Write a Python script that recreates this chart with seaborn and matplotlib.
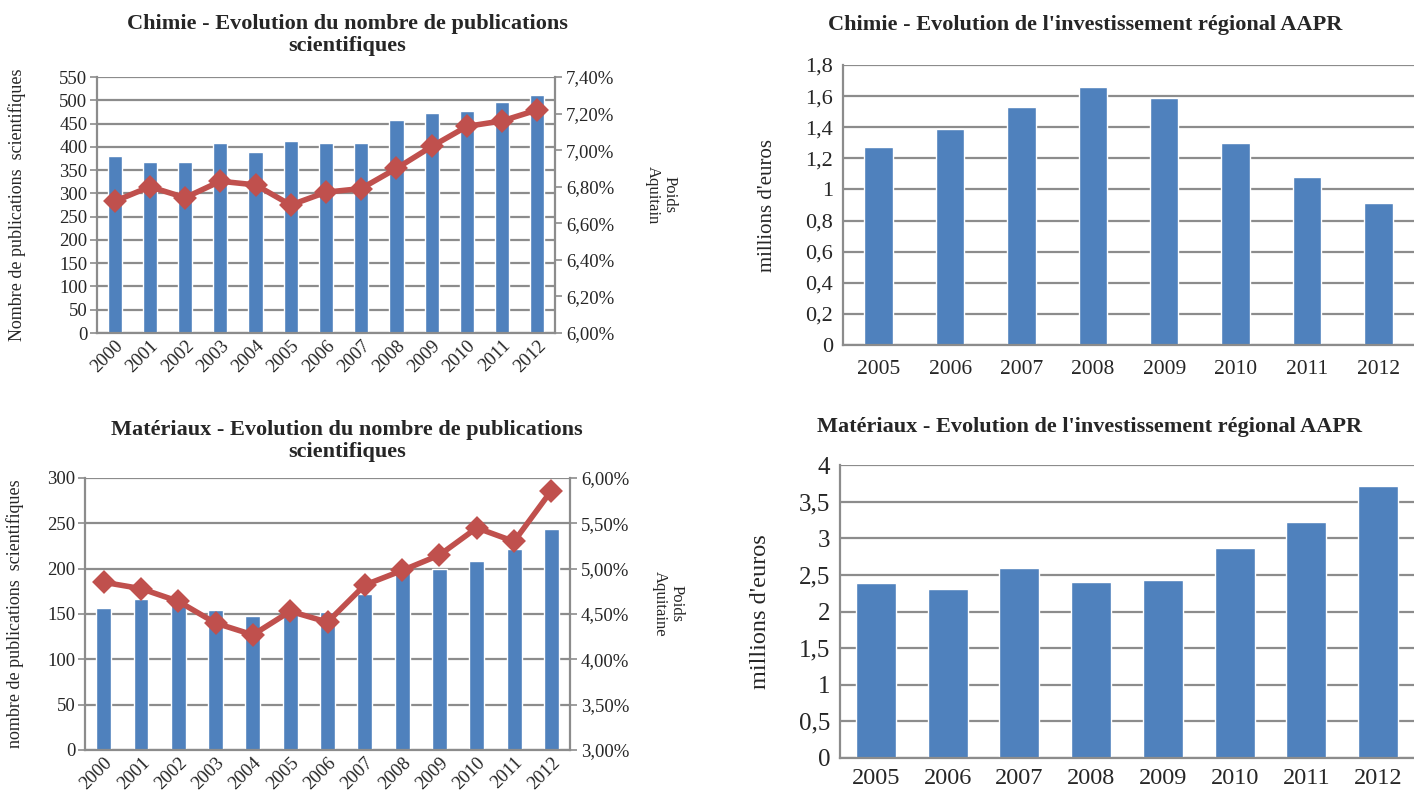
import matplotlib
matplotlib.use("Agg")
import matplotlib.pyplot as plt
from matplotlib.ticker import FuncFormatter, MultipleLocator
import seaborn as sns

# publications, Chimie
years_pub = ["2000", "2001", "2002", "2003", "2004", "2005", "2006",
             "2007", "2008", "2009", "2010", "2011", "2012"]
chimie_pub = [380, 367, 367, 408, 389, 412, 408, 409, 457, 472, 476, 497, 512]
chimie_poids = [6.72, 6.80, 6.74, 6.83, 6.81, 6.70, 6.77, 6.79, 6.90, 7.02, 7.13, 7.16, 7.22]

# publications, Materiaux
mat_pub = [157, 166, 169, 154, 148, 153, 152, 172, 196, 200, 209, 222, 244]
mat_poids = [4.85, 4.78, 4.64, 4.40, 4.27, 4.53, 4.41, 4.82, 4.98, 5.15, 5.45, 5.30, 5.86]

# investissement AAPR (millions d'euros)
years_inv = ["2005", "2006", "2007", "2008", "2009", "2010", "2011", "2012"]
chimie_inv = [1.27, 1.39, 1.53, 1.66, 1.59, 1.30, 1.08, 0.91]
mat_inv = [2.39, 2.31, 2.59, 2.40, 2.43, 2.87, 3.22, 3.71]

sns.set_theme(style="white")
plt.rcParams["font.family"] = ["Liberation Serif", "DejaVu Serif"]

BLUE = "#4F81BD"
RED = "#C0504D"
GRID = "#8C8C8C"

W, H = 1414, 800
fig = plt.figure(figsize=(W / 100, H / 100), dpi=100)


def add_ax(left, top, right, bottom):
    return fig.add_axes([left / W, 1 - bottom / H, (right - left) / W, (bottom - top) / H])


def comma(fmt):
    return FuncFormatter(lambda v, p: format(v, fmt).replace(".", ","))


def style_ax(ax, ymax, step, fsize, fmt):
    ax.set_ylim(0, ymax)
    ax.yaxis.set_major_locator(MultipleLocator(step))
    ax.yaxis.set_major_formatter(comma(fmt))
    ax.grid(axis="y", color=GRID, lw=1.6)
    ax.set_axisbelow(True)
    for s in ["top", "right"]:
        ax.spines[s].set_visible(False)
    for s in ["left", "bottom"]:
        ax.spines[s].set_color(GRID)
        ax.spines[s].set_linewidth(1.6)
    ax.tick_params(axis="y", labelsize=fsize, length=5, color=GRID, width=1.2, pad=2)
    ax.set_xlabel("")
    ax.set_ylabel("")


def pub_chart(box, pub, poids, ymax, step, pmin, pmax, pstep, title_y, title, ylabel, rlabel, rl_xy):
    ax = add_ax(*box)
    sns.barplot(x=years_pub, y=pub, color=BLUE, saturation=1, width=0.4, ax=ax)
    style_ax(ax, ymax, step, 13.5, "g")
    ax.tick_params(axis="x", labelsize=13.5, length=0, pad=3)
    for lab in ax.get_xticklabels():
        lab.set_rotation(45)
        lab.set_ha("right")
        lab.set_rotation_mode("anchor")
    ax2 = ax.twinx()
    sns.pointplot(x=years_pub, y=poids, color=RED, markers="D", markersize=9,
                  linewidth=4, ax=ax2)
    ax2.set_ylim(pmin, pmax)
    ax2.yaxis.set_major_locator(MultipleLocator(pstep))
    ax2.yaxis.set_major_formatter(FuncFormatter(lambda v, p: f"{v:.2f}%".replace(".", ",")))
    ax2.tick_params(axis="y", labelsize=13.5, length=5, color=GRID, width=1.2, pad=3)
    for s in ["top", "left", "bottom"]:
        ax2.spines[s].set_visible(False)
    ax2.spines["right"].set_color(GRID)
    ax2.spines["right"].set_linewidth(1.6)
    ax2.set_ylabel("")
    ax2.grid(False)
    ax.set_xlim(-0.5, len(years_pub) - 0.5)
    ax2.set_xlim(-0.5, len(years_pub) - 0.5)
    fig.text(347 / W, 1 - title_y / H, title, ha="center", va="center",
             fontsize=16, fontweight="bold", linespacing=1.2)
    fig.text(ylabel[1] / W, 1 - (box[1] + box[3]) / 2 / H, ylabel[0], rotation=90,
             ha="center", va="center", fontsize=13)
    fig.text(rl_xy[0] / W, 1 - rl_xy[1] / H, rlabel, rotation=270,
             ha="center", va="center", fontsize=12, linespacing=1.1)


def inv_chart(box, vals, ymax, step, fsize, xfsize, width, title_xy, title, ylab, xlab_pad):
    ax = add_ax(*box)
    sns.barplot(x=years_inv, y=vals, color=BLUE, saturation=1, width=width, ax=ax)
    style_ax(ax, ymax, step, fsize, "g")
    ax.tick_params(axis="x", labelsize=xfsize, length=0, pad=xlab_pad)
    ax.set_xlim(-0.5, len(years_inv) - 0.5)
    fig.text(title_xy[0] / W, 1 - title_xy[1] / H, title, ha="center", va="center",
             fontsize=16, fontweight="bold")
    fig.text(ylab[0] / W, 1 - (box[1] + box[3]) / 2 / H, "millions d'euros", rotation=90,
             ha="center", va="center", fontsize=ylab[1])


pub_chart((97, 77, 555, 333), chimie_pub, chimie_poids, 550, 50, 6.0, 7.4, 0.2, 35,
          "Chimie - Evolution du nombre de publications\nscientifiques",
          ("Nombre de publications  scientifiques", 17), "Poids\nAquitain", (661, 195))
pub_chart((85, 478, 570, 750), mat_pub, mat_poids, 300, 50, 3.0, 6.0, 0.5, 441,
          "Matériaux - Evolution du nombre de publications\nscientifiques",
          ("nombre de publications  scientifiques", 15), "Poids\nAquitaine", (668, 604))
inv_chart((843, 65, 1414, 345), chimie_inv, 1.8, 0.2, 16, 15.5, 0.4, (1085, 25),
          "Chimie - Evolution de l'investissement régional AAPR", (767, 15), 11)
inv_chart((840, 465, 1414, 758), mat_inv, 4, 0.5, 18, 17.5, 0.56, (1090, 427),
          "Matériaux - Evolution de l'investissement régional AAPR", (760, 17.5), 7)

fig.savefig("out.png", dpi=100)
